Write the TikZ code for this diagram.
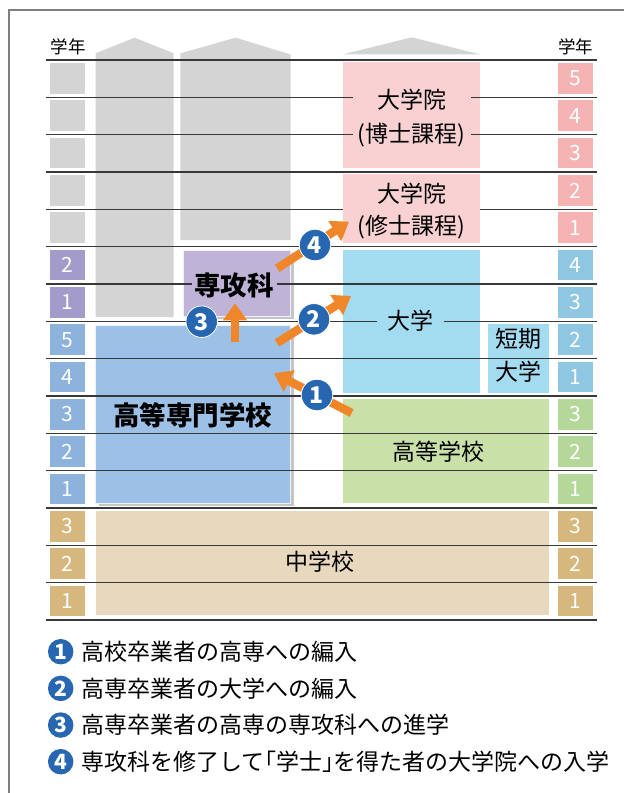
\documentclass[tikz,border=0pt]{standalone}
\usepackage{fontspec}
\setmainfont{Noto Sans CJK JP}
\usetikzlibrary{arrows.meta,shadows}
\definecolor{gcol}{HTML}{D4D4D4}
\definecolor{pinkbox}{HTML}{F9D1D3}
\definecolor{pinkgrade}{HTML}{F5B3B4}
\definecolor{purpgrade}{HTML}{A39CCB}
\definecolor{purpbox}{HTML}{BFB3D8}
\definecolor{kosenbox}{HTML}{9CC0E6}
\definecolor{kosengrade}{HTML}{8DB2DC}
\definecolor{unibox}{HTML}{A3DCF1}
\definecolor{unigrade}{HTML}{8FC7E3}
\definecolor{hsbox}{HTML}{C9E1A8}
\definecolor{hsgrade}{HTML}{B4D79A}
\definecolor{jhbox}{HTML}{E8D8BE}
\definecolor{jhgrade}{HTML}{D6B77D}
\definecolor{arrorange}{HTML}{F0862A}
\definecolor{badgeblue}{HTML}{2766B0}
\definecolor{framegray}{HTML}{7F7F7F}
\newcommand{\lbrk}{\makebox[0.5em][r]{「}}
\newcommand{\rbrk}{\makebox[0.5em][l]{」}}
\begin{document}
\begin{tikzpicture}[x=1pt,y=-1pt,
  box/.style={inner sep=0pt,outer sep=0pt},
  grade/.style={inner sep=0pt,minimum width=35pt,minimum height=30.8pt,text=white,font=\fontsize{21}{21}\selectfont},
  lab/.style={inner sep=0pt,font=\fontsize{23}{23}\selectfont},
  bigl/.style={inner sep=0pt,font=\fontsize{26.5}{27}\selectfont\bfseries},
  rowline/.style={draw=black!78,line width=1.1pt},
  arr/.style={draw=arrorange,line width=8.5pt,-{Triangle[width=23pt,length=17pt]}},
  badge/.style={circle,fill=badgeblue,draw=white,line width=0.8pt,text=white,minimum size=31.5pt,inner sep=0pt,font=\fontsize{23}{23}\selectfont\bfseries},
  lbadge/.style={circle,fill=badgeblue,text=white,minimum size=25.5pt,inner sep=0pt,font=\fontsize{21}{21}\selectfont\bfseries},
  legend/.style={anchor=west,inner sep=0pt,font=\fontsize{23}{23}\selectfont},
  shad/.style={drop shadow={shadow xshift=3pt,shadow yshift=-3pt,opacity=0.45}}]
\useasboundingbox (0,0) rectangle (624,793);
\fill[white] (0,0) rectangle (624,793);
% frame
\draw[framegray,line width=2pt] (8,10) -- (624,10);
\draw[framegray,line width=1.5pt] (9,10) -- (9,793);
% grey columns and roof
\fill[gcol] (95.7,53.3) -- (134.7,37.7) -- (173.7,53.3) -- (173.7,317) -- (95.7,317) -- cycle;
\fill[gcol] (180.3,53.3) -- (235.7,37.7) -- (290.7,54.5) -- (290.7,240) -- (180.3,240) -- cycle;
\fill[gcol] (343.3,54.3) -- (411.7,37.3) -- (480,54.3) -- cycle;
% school boxes
\node[box,fill=pinkbox,minimum width=136.7pt,minimum height=105.7pt] (hakase) at (411.65,114.85) {};
\node[box,fill=unibox,minimum width=136.7pt,minimum height=142.7pt] (univ) at (411.65,321.35) {};
\node[box,fill=unibox,minimum width=60.7pt,minimum height=68.7pt] (tandai) at (518.65,358.35) {};
\node[box,fill=hsbox,minimum width=205.7pt,minimum height=104pt] (hs) at (446.15,451.3) {};
\node[box,fill=jhbox,minimum width=453.3pt,minimum height=103.7pt] (jh) at (322.35,562.85) {};
\node[box,shad,fill=kosenbox,draw=white!80!kosenbox,line width=0.8pt,minimum width=195pt,minimum height=178.3pt] (kosen) at (193.2,414.15) {};
\node[box,shad,fill=purpbox,draw=white!80!purpbox,line width=0.8pt,minimum width=107.4pt,minimum height=66pt] (senkou) at (237,283) {};
% row lines
\foreach \k in {0,...,15}
  \draw[rowline] (46,{60+37.333*\k}) -- (597,{60+37.333*\k});
% master course box (hides its line)
\node[box,fill=pinkbox,minimum width=136.7pt,minimum height=68.7pt] (shushi) at (411.65,208.35) {};
% labels
\node[lab,fill=pinkbox,minimum width=118pt,minimum height=22pt] (t1) at (411.7,99.5) {大学院};
\node[lab,fill=pinkbox,minimum width=118pt,minimum height=22pt] (t2) at (411.7,135) {(博士課程)};
\node[lab] (t3) at (411.7,193.3) {大学院};
\node[lab] (t4) at (411.7,226.7) {(修士課程)};
\node[lab,fill=unibox,minimum width=67pt,minimum height=22pt] (t5) at (410.4,320.5) {大学};
\node[lab] (t6) at (518.7,339.3) {短期};
\node[lab] (t7) at (518.7,371.7) {大学};
\node[lab] (t8) at (438.3,451.7) {高等学校};
\node[lab] (t9) at (320,562) {中学校};
\node[bigl] (t10) at (192.5,415) {高等専門学校};
\node[bigl,fill=purpbox,minimum width=85pt,minimum height=24pt] (t11) at (234,285) {専攻科};
% year headers
\node[inner sep=0pt,font=\fontsize{17.5}{17.5}\selectfont] (yl) at (68,46.5) {学年};
\node[inner sep=0pt,font=\fontsize{17.5}{17.5}\selectfont] (yr) at (575.5,46.5) {学年};
% grade boxes
\foreach \r/\c/\t in {0/gcol/,1/gcol/,2/gcol/,3/gcol/,4/gcol/,5/purpgrade/2,6/purpgrade/1,7/kosengrade/5,8/kosengrade/4,9/kosengrade/3,10/kosengrade/2,11/kosengrade/1,12/jhgrade/3,13/jhgrade/2,14/jhgrade/1}
  \node[grade,fill=\c] (L\r) at (67.5,{78.4+37.333*\r}) {\t};
\foreach \r/\c/\t in {0/pinkgrade/5,1/pinkgrade/4,2/pinkgrade/3,3/pinkgrade/2,4/pinkgrade/1,5/unigrade/4,6/unigrade/3,7/unigrade/2,8/unigrade/1,9/hsgrade/3,10/hsgrade/2,11/hsgrade/1,12/jhgrade/3,13/jhgrade/2,14/jhgrade/1}
  \node[grade,fill=\c] (R\r) at (575.5,{78.4+37.333*\r}) {\t};
% arrows
\coordinate (a1s) at (351.7,413); \coordinate (a1e) at (274,373.3);
\coordinate (a2s) at (277,343);   \coordinate (a2e) at (351,296);
\coordinate (a3s) at (235,341.7); \coordinate (a3e) at (235,303.3);
\coordinate (a4s) at (277.3,268.3); \coordinate (a4e) at (349,221.7);
\draw[arr] (a1s) -- (a1e);
\draw[arr] (a2s) -- (a2e);
\draw[arr] (a3s) -- (a3e);
\draw[arr] (a4s) -- (a4e);
\node[badge] (b1) at (317,395) {1};
\node[badge] (b2) at (314,319.3) {2};
\node[badge] (b3) at (201.7,321.7) {3};
\node[badge] (b4) at (315,245) {4};
% legend
\foreach \i/\t in {1/高校卒業者の高専への編入,2/高専卒業者の大学への編入,3/高専卒業者の高専の専攻科への進学,4/専攻科を修了して\lbrk 学士\rbrk を得た者の大学院への入学}{
  \node[lbadge] (lb\i) at (60.7,{651.7+36.67*(\i-1)}) {\i};
  \node[legend] (lt\i) at (81,{651.7+36.67*(\i-1)}) {\t};
}
\end{tikzpicture}
\end{document}
